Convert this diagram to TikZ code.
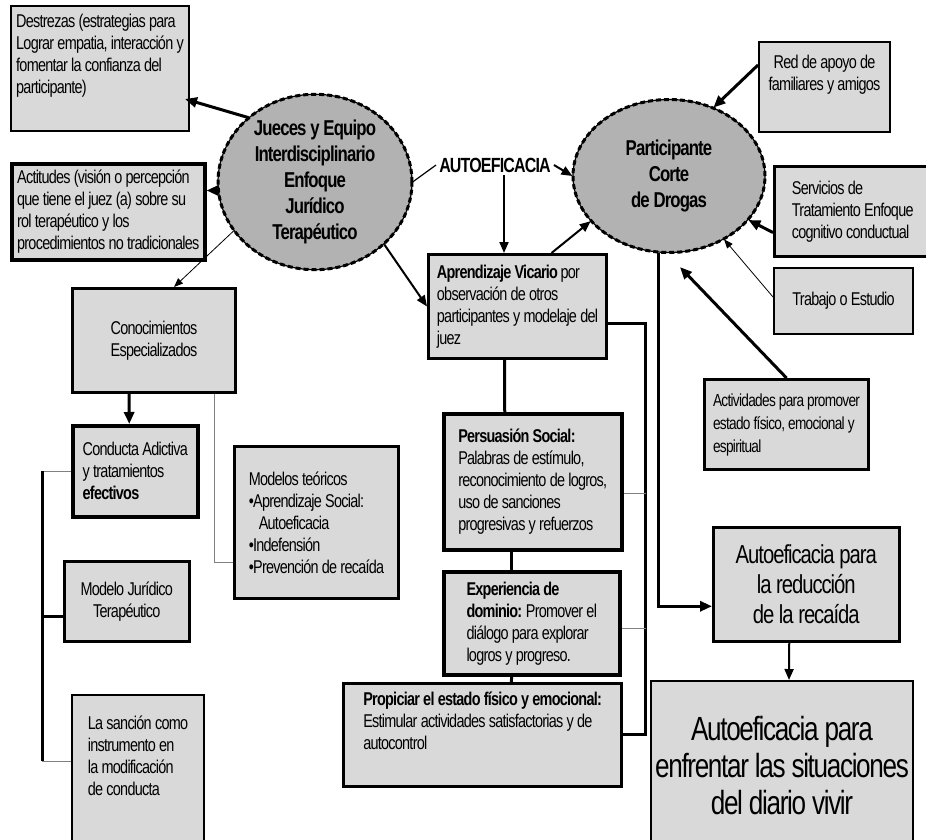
\documentclass[tikz,border=0pt]{standalone}
\usepackage{fontspec}
\setmainfont{Liberation Sans}[FakeStretch=0.78, LetterSpace=-4]
\usetikzlibrary{calc, positioning}
\usetikzlibrary{shapes.geometric}
\usetikzlibrary{arrows.meta}
\definecolor{grisclaro}{RGB}{217,217,217}
\definecolor{grisoscuro}{RGB}{178,178,178}

\begin{document}
\begin{tikzpicture}[x=1pt,y=-1pt,
  caja/.style={draw, fill=grisclaro, line width=2pt, anchor=north west, inner sep=0pt,
    align=left, font=\fontsize{18.5}{22}\selectfont},
  cajac/.style={caja, align=center},
  elipse/.style={ellipse, draw, fill=grisoscuro, line width=1.2pt, inner sep=0pt, align=center,
    font=\bfseries\fontsize{21.5}{26}\selectfont,
    postaction={draw, line width=3pt, dash pattern=on 5pt off 3pt}},
  flecha/.style={line width=3pt, -{Triangle[length=12pt,width=10pt]}},
  flechamedia/.style={line width=2pt, -{Triangle[length=11pt,width=9pt]}},
  flechafina/.style={line width=0.8pt, -{Triangle[length=9pt,width=7pt]}},
  linea/.style={line width=3pt},
  lineagris/.style={line width=1pt, draw=gray}]
\useasboundingbox (0,0) rectangle (926,839);

\node[elipse, minimum width=194, minimum height=170] (jueces) at (315,182)
  {Jueces y Equipo\\Interdisciplinario\\Enfoque\\Jurídico\\Terapéutico};
\node[elipse, minimum width=192, minimum height=153] (part) at (669,176)
  {Participante\\Corte\\de Drogas};
\node[font=\bfseries\fontsize{20.5}{22}\selectfont, inner sep=3pt] (auto) at (495,165) {AUTOEFICACIA};

\node[caja, minimum width=178, minimum height=125] (destrezas) at (10,5)
  {Destrezas (estrategias para\\Lograr empatia, interacción y\\fomentar la confianza del\\participante)\\\strut};
\node[caja, line width=3.5pt, minimum width=193, minimum height=96] (actitudes) at (10,162)
  {Actitudes (visión o percepción\\que tiene el juez (a) sobre su\\rol terapéutico y los\\procedimientos no tradicionales};
\node[cajac, line width=3pt, minimum width=163, minimum height=104] (conocimientos) at (71,287)
  {Conocimientos\\Especializados};
\node[caja, line width=3.5pt, minimum width=125, minimum height=91] (conducta) at (71,424)
  {Conducta Adictiva\\y tratamientos\\\textbf{efectivos}};
\node[caja, line width=3pt, minimum width=164, minimum height=152] (modelos) at (233,445)
  {Modelos teóricos\\•Aprendizaje Social:\\\hspace{10pt}Autoeficacia\\•Indefensión\\•Prevención de recaída};
\node[cajac, line width=2.5pt, minimum width=125, minimum height=80] (modelojur) at (63,560)
  {Modelo Jurídico\\Terapéutico};
\node[caja, minimum width=132, minimum height=150] (sancion) at (71,694)
  {La sanción como\\instrumento en\\la modificación\\de conducta\\\strut};

\node[caja, line width=3pt, minimum width=178, minimum height=104] (aprendizaje) at (427,253)
  {\textbf{Aprendizaje Vicario} por\\observación de otros\\participantes y modelaje del\\juez};
\node[caja, line width=3.5pt, minimum width=178, minimum height=136] (persuasion) at (442,412)
  {\textbf{Persuasión Social:}\\Palabras de estímulo,\\reconocimiento de logros,\\uso de sanciones\\progresivas y refuerzos};
\node[caja, line width=3.5pt, minimum width=176, minimum height=103] (experiencia) at (442,570)
  {\textbf{Experiencia de}\\\textbf{dominio:} Promover el\\diálogo para explorar\\logros y progreso.};
\node[caja, line width=2.5pt, minimum width=278, minimum height=103] (propiciar) at (342,682)
  {\textbf{Propiciar el estado físico y emocional:}\\Estimular actividades satisfactorias y de\\autocontrol\\\strut};

\node[cajac, minimum width=131, minimum height=90] (red) at (758,41)
  {Red de apoyo de\\familiares y amigos\\\strut};
\node[caja, line width=2.5pt, minimum width=157, minimum height=90] (servicios) at (773,165)
  {Servicios de\\Tratamiento Enfoque\\cognitivo conductual};
\node[cajac, minimum width=139, minimum height=66] (trabajo) at (773,267)
  {Trabajo o Estudio};
\node[caja, line width=3pt, minimum width=164, minimum height=90,
  font=\fontsize{17.5}{23}\selectfont] (actividades) at (703,378)
  {Actividades para promover\\estado físico, emocional y\\espiritual};
\node[cajac, line width=2.5pt, minimum width=186, minimum height=114,
  font=\fontsize{26}{30}\selectfont] (recaida) at (712,526)
  {Autoeficacia para\\la reducción\\de la recaída};
\node[cajac, minimum width=262, minimum height=170,
  font=\fontsize{33.5}{37}\selectfont] (vivir) at (650,680)
  {Autoeficacia para\\enfrentar las situaciones\\del diario vivir};

\draw[flecha] (jueces.136) -- ($(destrezas.south east)+(-5,-33)$);
\draw[flecha] (jueces.185) -- (jueces.185 -| actitudes.east);
\draw[flechafina] (jueces.211) -- ($(conocimientos.north)+(20,0)$);
\draw[flechamedia] (jueces.318) -- (aprendizaje.west);
\draw[line width=1.2pt] (jueces.east) -- (auto.west);
\draw[flechamedia] (auto.east) -- (part.west);
\coordinate (autoabajo) at ($(auto.south)+(9,0)$);
\draw[flechamedia] (autoabajo) -- (autoabajo |- aprendizaje.north);
\draw[flechamedia] ($(aprendizaje.north)+(34,0)$) -- (part.210);

\draw[flecha] ($(red.north west)+(0,24)$) -- (part.57);
\draw[flecha] ($(servicios.south west)+(0,-25)$) -- (part.331);
\draw[flechafina] ($(trabajo.north west)+(0,30)$) -- (part.311);
\draw[flecha] (actividades.north) -- ($(part.south)+(11,14)$);
\coordinate (partabajo) at ($(part.south)+(-11,0)$);
\draw[flecha] (partabajo) |- ($(recaida.west)+(0,22)$);
\draw[flechamedia] ($(recaida.south)+(-17,0)$) -- ($(vivir.north)+(7,0)$);

\draw[linea] ($(aprendizaje.east)+(0,17)$) -- ++(37,0) coordinate (riel) |- (propiciar.east);
\draw[lineagris] ($(persuasion.east)+(0,12)$) -- ++(22,0);
\draw[lineagris] ($(experiencia.east)+(0,5)$) -- ++(24,0);
\draw[linea] ($(aprendizaje.south)+(-13,0)$) -- ($(persuasion.north)+(-28,0)$);
\draw[linea] ($(persuasion.south)+(-21,0)$) -- ($(experiencia.north)+(-20,0)$);
\draw[linea] ($(experiencia.south)+(-20,0)$) -- ($(propiciar.north)+(29,0)$);

\draw[flecha] ($(conocimientos.south)+(-25,0)$) -- ($(conducta.north)+(-6,0)$);
\draw[lineagris] ($(conocimientos.south east)+(-23,0)$) |- ($(modelos.south west)+(0,-38)$);
\draw[lineagris] (conducta.west) -- ++(-29,0) coordinate (izq);
\coordinate (sancionizq) at ($(sancion.north west)+(0,67)$);
\coordinate (modelojurizq) at ($(modelojur.west)+(0,15)$);
\draw[linea] (izq) -- (izq |- sancionizq);
\draw[lineagris] (izq |- sancionizq) -- (sancionizq);
\draw[linea] (izq |- modelojurizq) -- (modelojurizq);
\end{tikzpicture}
\end{document}
